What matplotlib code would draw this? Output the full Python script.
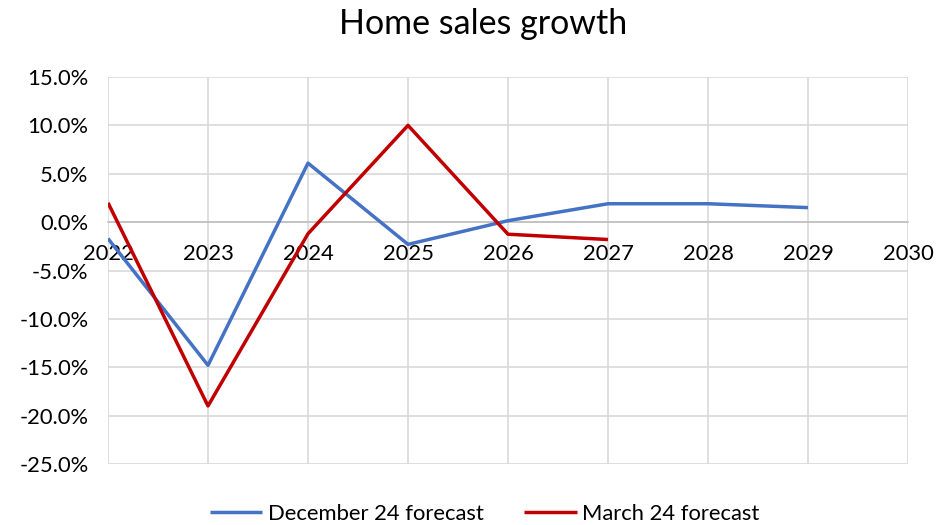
import matplotlib
matplotlib.use("Agg")
import matplotlib.pyplot as plt
from matplotlib.ticker import FuncFormatter

years = [2022, 2023, 2024, 2025, 2026, 2027, 2028, 2029, 2030]
dec_years = [2022, 2023, 2024, 2025, 2026, 2027, 2028, 2029]
dec_values = [-1.7, -14.8, 6.1, -2.3, 0.15, 1.9, 1.9, 1.5]
mar_years = [2022, 2023, 2024, 2025, 2026, 2027]
mar_values = [2.0, -19.0, -1.2, 10.0, -1.25, -1.8]
y_ticks = [-25, -20, -15, -10, -5, 0, 5, 10, 15]

plt.rcParams['font.family'] = ['Lato', 'DejaVu Sans']

fig = plt.figure(figsize=(9.43, 5.25), dpi=100)
ax = fig.add_axes([108/943, 1-464/525, 800/943, 387/525])

ax.plot(dec_years, dec_values, color='#4472C4', lw=2.5, label='December 24 forecast', solid_capstyle='butt', zorder=3)
ax.plot(mar_years, mar_values, color='#C00000', lw=2.5, label='March 24 forecast', solid_capstyle='butt', zorder=3)

ax.set_xlim(2022, 2030)
ax.set_ylim(-25, 15)
ax.set_yticks(y_ticks)
ax.set_xticks(years)
ax.yaxis.set_major_formatter(FuncFormatter(lambda v, p: f"{v:.1f}%"))
ax.grid(True, color='#D9D9D9', lw=1.2, zorder=0)
for s in ['top', 'right', 'left']:
    ax.spines[s].set_visible(False)
ax.spines['bottom'].set_position(('data', 0))
ax.spines['bottom'].set_color('#BFBFBF')
ax.spines['bottom'].set_linewidth(1.2)
ax.tick_params(axis='both', length=0, labelsize=15.8, colors='black')
ax.tick_params(axis='y', pad=14)
ax.tick_params(axis='x', pad=16)
ax.set_axisbelow(True)

fig.suptitle('Home sales growth', fontsize=24.5, x=0.512, y=0.985)
ax.legend(loc='lower center', ncol=2, frameon=False, fontsize=15.8, handlelength=2.4,
          columnspacing=1.85, handletextpad=0.25, borderaxespad=0.0)
leg = ax.get_legend()
leg.set_bbox_to_anchor((0.514, -0.014), transform=fig.transFigure)

fig.savefig('out.png', dpi=100)
